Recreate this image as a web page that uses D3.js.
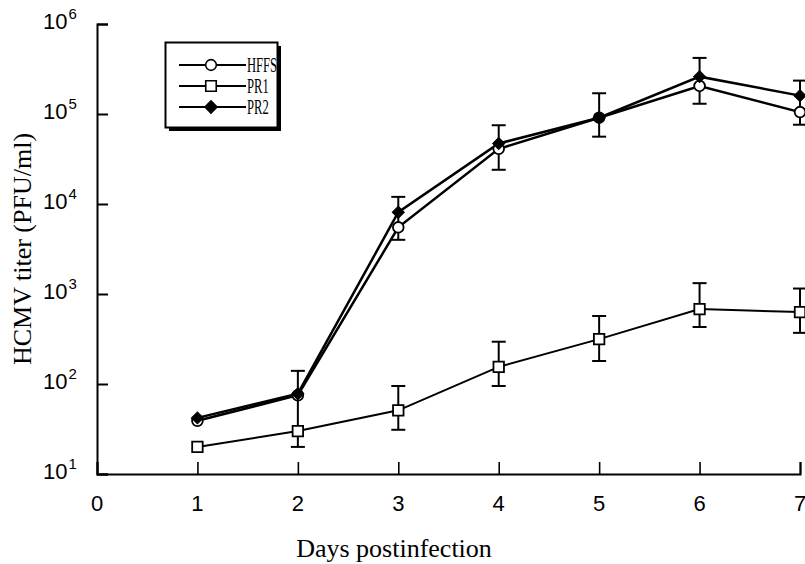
<!DOCTYPE html>
<html>
<head>
<meta charset="utf-8">
<title>HCMV titer</title>
<script src="https://cdn.jsdelivr.net/npm/d3@7"></script>
<style>
  body { margin: 0; background: #fff; }
  .tick-label { font-family: "Liberation Sans", Arial, sans-serif; font-size: 22px; fill: #000; }
  .title { font-family: "Liberation Serif", "Times New Roman", serif; font-size: 26px; fill: #000; }
  .legend-text { font-family: "Liberation Serif", "Times New Roman", serif; font-size: 21px; fill: #000; }
</style>
</head>
<body>
<script>
// data
var days = [1, 2, 3, 4, 5, 6, 7];
var hffs = [39, 75, 5500, 41000, 91000, 205000, 105000];
var pr1  = [20, 30, 51, 155, 315, 680, 630];
var pr2  = [42, 78, 8100, 47000, 91000, 260000, 160000];
// error bars (upper pair share one bar per day)
var upperLow  = [null, null, 4000, 24000, 56000, 130000, 76000];
var upperHigh = [null, null, 12000, 75000, 170000, 420000, 235000];
var pr1Low  = [null, 20, 31, 95, 180, 430, 370];
var pr1High = [null, 140, 95, 295, 570, 1320, 1150];
var xTicks = [0, 1, 2, 3, 4, 5, 6, 7];
var yExps = [1, 2, 3, 4, 5, 6];

var width = 805, height = 564;
var svg = d3.select('body').append('svg')
  .attr('width', width).attr('height', height);

var x = d3.scaleLinear().domain([0, 7]).range([97, 800]);
var y = d3.scaleLog().domain([10, 1e6]).range([474, 24]);

// x axis, ticks pointing up
var xAxis = d3.axisBottom(x).tickValues(xTicks).tickSize(-12).tickFormat('');
svg.append('g')
  .attr('transform', 'translate(0,' + y(10) + ')')
  .call(xAxis)
  .call(g => g.select('.domain').attr('stroke-width', 2))
  .call(g => g.selectAll('.tick line').attr('stroke-width', 1.6));

svg.selectAll('.xlab').data(xTicks).enter().append('text')
  .attr('class', 'tick-label')
  .attr('x', d => x(d))
  .attr('y', 511)
  .attr('text-anchor', 'middle')
  .text(d => d);

// y axis, ticks pointing right
var yAxis = d3.axisLeft(y).tickValues(yExps.map(e => Math.pow(10, e))).tickSize(-11).tickFormat('');
svg.append('g')
  .attr('transform', 'translate(' + x(0) + ',0)')
  .call(yAxis)
  .call(g => g.select('.domain').attr('stroke-width', 2))
  .call(g => g.selectAll('.tick line').attr('stroke-width', 2));

var ylab = svg.selectAll('.ylab').data(yExps).enter().append('text')
  .attr('class', 'tick-label')
  .attr('x', 43)
  .attr('y', d => y(Math.pow(10, d)) + 5);
ylab.append('tspan').text('10');
ylab.append('tspan').attr('dx', 1).attr('dy', -10).attr('font-size', 15).text(d => d);

// axis titles
svg.append('text').attr('class', 'title')
  .attr('transform', 'translate(31,' + 249 + ') rotate(-90)')
  .attr('text-anchor', 'middle')
  .text('HCMV titer (PFU/ml)');
svg.append('text').attr('class', 'title')
  .attr('x', 394).attr('y', 557)
  .attr('text-anchor', 'middle')
  .text('Days postinfection');

// error bars
function errorBars(low, high) {
  var g = svg.append('g').attr('stroke', '#000').attr('stroke-width', 2);
  days.forEach(function (d, i) {
    if (low[i] == null) return;
    var cx = x(d);
    g.append('line').attr('x1', cx).attr('x2', cx).attr('y1', y(low[i])).attr('y2', y(high[i]));
    g.append('line').attr('x1', cx - 7).attr('x2', cx + 7).attr('y1', y(low[i])).attr('y2', y(low[i]));
    g.append('line').attr('x1', cx - 7).attr('x2', cx + 7).attr('y1', y(high[i])).attr('y2', y(high[i]));
  });
}
errorBars(upperLow, upperHigh);
errorBars(pr1Low, pr1High);

// lines
var line = d3.line().x((d, i) => x(days[i])).y(d => y(d));
svg.append('path').datum(pr1).attr('d', line)
  .attr('fill', 'none').attr('stroke', '#000').attr('stroke-width', 2);
svg.append('path').datum(hffs).attr('d', line)
  .attr('fill', 'none').attr('stroke', '#000').attr('stroke-width', 2.5);
svg.append('path').datum(pr2).attr('d', line)
  .attr('fill', 'none').attr('stroke', '#000').attr('stroke-width', 2.5);

// markers
var circleSym = d3.symbol().type(d3.symbolCircle).size(90);
var squareSym = d3.symbol().type(d3.symbolSquare).size(110);
var diamondSym = d3.symbol().type(d3.symbolSquare).size(72); // rotated 45deg below

svg.selectAll('.m-pr1').data(pr1).enter().append('path')
  .attr('d', squareSym)
  .attr('transform', (d, i) => 'translate(' + x(days[i]) + ',' + y(d) + ')')
  .attr('fill', '#fff').attr('stroke', '#000').attr('stroke-width', 1.8);
svg.selectAll('.m-hffs').data(hffs).enter().append('path')
  .attr('d', circleSym)
  .attr('transform', (d, i) => 'translate(' + x(days[i]) + ',' + y(d) + ')')
  .attr('fill', '#fff').attr('stroke', '#000').attr('stroke-width', 1.8);
svg.selectAll('.m-pr2').data(pr2).enter().append('path')
  .attr('d', diamondSym)
  .attr('transform', (d, i) => 'translate(' + x(days[i]) + ',' + y(d) + ') rotate(45)')
  .attr('fill', '#000').attr('stroke', '#000').attr('stroke-width', 1);

// legend
var legendItems = [
  { name: 'HFFS', sym: circleSym, fill: '#fff', rot: 0 },
  { name: 'PR1', sym: squareSym, fill: '#fff', rot: 0 },
  { name: 'PR2', sym: diamondSym, fill: '#000', rot: 45 }
];
var lg = svg.append('g');
lg.append('rect').attr('x', 169).attr('y', 46).attr('width', 112).attr('height', 85).attr('fill', '#000');
lg.append('rect').attr('x', 165.5).attr('y', 42.5).attr('width', 112).attr('height', 85)
  .attr('fill', '#fff').attr('stroke', '#000').attr('stroke-width', 2);
legendItems.forEach(function (it, i) {
  var ly = 65 + i * 21;
  lg.append('line').attr('x1', 179).attr('x2', 246).attr('y1', ly).attr('y2', ly)
    .attr('stroke', '#000').attr('stroke-width', 1.8);
  lg.append('path').attr('d', it.sym)
    .attr('transform', 'translate(211,' + ly + ') rotate(' + it.rot + ')')
    .attr('fill', it.fill).attr('stroke', '#000').attr('stroke-width', 1.6);
  lg.append('text').attr('class', 'legend-text')
    .attr('transform', 'translate(247,' + (ly + 7) + ') scale(0.6,1)')
    .text(it.name);
});
</script>
</body>
</html>
